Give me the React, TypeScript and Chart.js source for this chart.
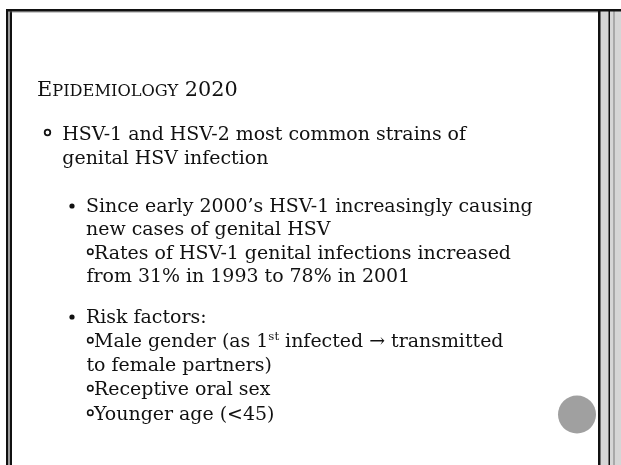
import React, { useEffect, useRef } from "react";
import { Chart, registerables } from "chart.js";

Chart.register(...registerables);

// ---- content (data) ----
const titleFirst = "E";
const titleSmallCaps = "PIDEMIOLOGY";
const titleYear = " 2020";

const lineTexts = [
  "HSV-1 and HSV-2 most common strains of",
  "genital HSV infection",
  "Since early 2000\u2019s HSV-1 increasingly causing",
  "new cases of genital HSV",
  "Rates of HSV-1 genital infections increased",
  "from 31% in 1993 to 78% in 2001",
  "Risk factors:",
  "Male gender (as 1^st infected \u2192 transmitted",
  "to female partners)",
  "Receptive oral sex",
  "Younger age (<45)",
];
const lineLevels = [1, 1, 2, 2, 3, 3, 2, 3, 3, 3, 3];
const lineHasBullet = [true, false, true, false, true, false, true, true, false, true, true];

// decorative accent dot (x, y, radius) in page pixel space
const accentDotX = [577];
const accentDotY = [414.5];
const accentDotR = [19];

// ---- layout ----
const W = 621;
const H = 465;
const FONT = '"DejaVu Serif", "Liberation Serif", serif';
const lineBaselines = [139.5, 163.5, 212, 235, 258.5, 282, 323, 347, 371, 395, 419.5];
const textX: Record<number, number> = { 1: 62.3, 2: 86, 3: 94 };
const contX: Record<number, number> = { 1: 62.3, 2: 86, 3: 86.5 };

const slidePlugin = {
  id: "slide",
  beforeDraw(chart: any) {
    const ctx: CanvasRenderingContext2D = chart.ctx;
    ctx.save();
    ctx.fillStyle = "#ffffff";
    ctx.fillRect(0, 0, W, H);
    ctx.restore();
  },
  afterDraw(chart: any) {
    const ctx: CanvasRenderingContext2D = chart.ctx;
    ctx.save();
    // ---- borders ----
    // right band
    ctx.fillStyle = "#d6d6d6";
    ctx.fillRect(600, 9, 21, H);
    ctx.fillStyle = "#111";
    ctx.fillRect(598, 9, 2.5, H);
    ctx.fillRect(608.5, 9, 1.5, H);
    ctx.fillStyle = "#a9a9a9";
    ctx.fillRect(613, 9, 2, H);
    // left double line
    ctx.fillStyle = "#111";
    ctx.fillRect(6, 9, 2, H);
    ctx.fillStyle = "#9a9a9a";
    ctx.fillRect(8, 9, 2, H);
    ctx.fillStyle = "#111";
    ctx.fillRect(10, 9, 2, H);
    // top line
    ctx.fillRect(6, 9, W - 6, 2.5);
    ctx.fillStyle = "#555";
    ctx.fillRect(10, 11.5, 588, 0.8);

    // ---- text ----
    ctx.fillStyle = "#111";
    ctx.textBaseline = "alphabetic";
    ctx.textAlign = "left";

    // body font size fitted to reference line width
    ctx.font = `100px ${FONT}`;
    const w100 = ctx.measureText(lineTexts[0]).width;
    const bodySize = (100 * 404) / w100;

    // title with small caps, fitted to width
    const sc = 0.78;
    ctx.font = `100px ${FONT}`;
    const a = ctx.measureText(titleFirst).width + ctx.measureText(titleYear).width;
    ctx.font = `${100 * sc}px ${FONT}`;
    const b = ctx.measureText(titleSmallCaps).width;
    const tSize = (100 * 201) / (a + b);
    let x = 37;
    const ty = 96;
    ctx.font = `${tSize}px ${FONT}`;
    ctx.fillText(titleFirst, x, ty);
    x += ctx.measureText(titleFirst).width;
    ctx.font = `${tSize * sc}px ${FONT}`;
    ctx.fillText(titleSmallCaps, x, ty);
    x += ctx.measureText(titleSmallCaps).width;
    ctx.font = `${tSize}px ${FONT}`;
    ctx.fillText(titleYear, x, ty);

    // body lines
    lineTexts.forEach((t, i) => {
      const lvl = lineLevels[i];
      const by = lineBaselines[i];
      const hasB = lineHasBullet[i];
      const tx = hasB ? textX[lvl] : contX[lvl];
      if (hasB) {
        ctx.beginPath();
        if (lvl === 1) {
          ctx.lineWidth = 1.8;
          ctx.strokeStyle = "#111";
          ctx.arc(47.5, by - 7, 2.8, 0, Math.PI * 2);
          ctx.stroke();
        } else if (lvl === 2) {
          ctx.fillStyle = "#111";
          ctx.arc(72, by - 6, 2.6, 0, Math.PI * 2);
          ctx.fill();
        } else {
          ctx.lineWidth = 1.6;
          ctx.strokeStyle = "#111";
          ctx.arc(90.3, by - 6.8, 2.7, 0, Math.PI * 2);
          ctx.stroke();
        }
      }
      ctx.fillStyle = "#111";
      ctx.font = `${bodySize}px ${FONT}`;
      if (t.includes("^")) {
        const [pre, rest] = t.split("^");
        const sup = rest.slice(0, 2);
        const post = rest.slice(2);
        let cx = tx;
        ctx.fillText(pre, cx, by);
        cx += ctx.measureText(pre).width;
        ctx.font = `${bodySize * 0.62}px ${FONT}`;
        ctx.fillText(sup, cx, by - bodySize * 0.36);
        cx += ctx.measureText(sup).width;
        ctx.font = `${bodySize}px ${FONT}`;
        ctx.fillText(post, cx, by);
      } else {
        ctx.fillText(t, tx, by);
      }
    });
    ctx.restore();
  },
};

export default function App() {
  const ref = useRef<HTMLCanvasElement | null>(null);
  useEffect(() => {
    if (!ref.current) return;
    const chart = new Chart(ref.current, {
      type: "bubble",
      data: {
        datasets: [
          {
            data: accentDotX.map((v, i) => ({ x: v, y: accentDotY[i], r: accentDotR[i] })),
            backgroundColor: "#a0a0a0",
            borderColor: "#a0a0a0",
            borderWidth: 0,
            clip: false as any,
          },
        ],
      },
      options: {
        animation: false,
        responsive: false,
        devicePixelRatio: 1,
        layout: { padding: 0, autoPadding: false } as any,
        plugins: { legend: { display: false }, tooltip: { enabled: false }, title: { display: false } },
        scales: {
          x: { type: "linear", min: 0, max: W, display: false },
          y: { type: "linear", min: 0, max: H, reverse: true, display: false },
        },
        events: [],
      },
      plugins: [slidePlugin],
    });
    return () => chart.destroy();
  }, []);
  return (
    <div style={{ position: "fixed", left: 0, top: 0, width: W, height: H, background: "#fff" }}>
      <canvas ref={ref} width={W} height={H} style={{ display: "block", width: W, height: H }} />
    </div>
  );
}
